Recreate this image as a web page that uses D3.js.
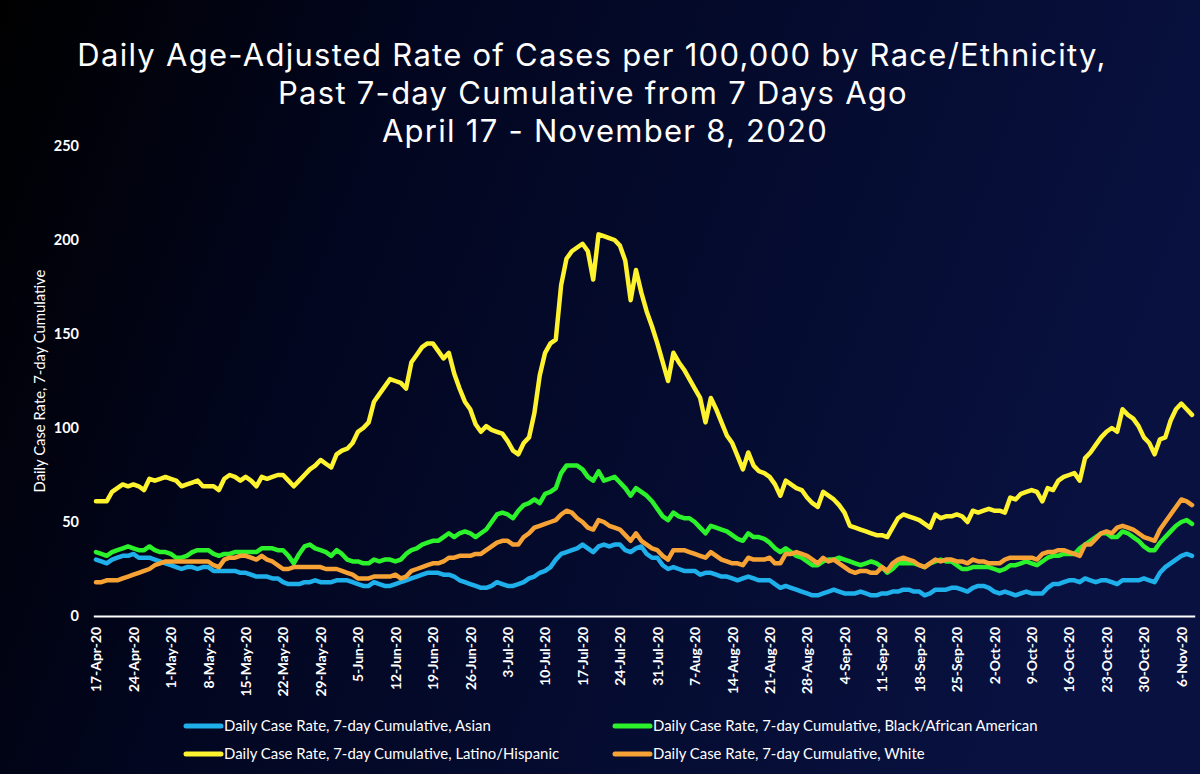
<!DOCTYPE html>
<html><head><meta charset="utf-8">
<script src="https://cdn.jsdelivr.net/npm/d3@7"></script>
<style>html,body{margin:0;padding:0;background:#000;} svg{display:block;}</style>
</head><body>
<svg id="chart" width="1200" height="774"></svg>
<script>
// ---------- data ----------
const titleLines = [
  "Daily Age-Adjusted Rate of Cases per 100,000 by Race/Ethnicity,",
  "Past 7-day Cumulative from 7 Days Ago",
  "April 17 - November 8, 2020"
];
const yAxisTitle = "Daily Case Rate, 7-day Cumulative";
const startDate = "17-Apr-20";
const endDate = "8-Nov-20";
const tickLabels = ["17-Apr-20","24-Apr-20","1-May-20","8-May-20","15-May-20","22-May-20","29-May-20",
  "5-Jun-20","12-Jun-20","19-Jun-20","26-Jun-20","3-Jul-20","10-Jul-20","17-Jul-20","24-Jul-20",
  "31-Jul-20","7-Aug-20","14-Aug-20","21-Aug-20","28-Aug-20","4-Sep-20","11-Sep-20","18-Sep-20",
  "25-Sep-20","2-Oct-20","9-Oct-20","16-Oct-20","23-Oct-20","30-Oct-20","6-Nov-20"];
const yTicks = [0, 50, 100, 150, 200, 250];
const seriesNames = [
  "Daily Case Rate, 7-day Cumulative, Asian",
  "Daily Case Rate, 7-day Cumulative, Black/African American",
  "Daily Case Rate, 7-day Cumulative, Latino/Hispanic",
  "Daily Case Rate, 7-day Cumulative, White"
];
const asian = [
  30,29,28,30,31,32,32,33,31,31, 31,30,29,28,27,26,25,26,26,25,
  26,26,24,24,24,24,24,23,23,22, 21,21,21,20,20,18,17,17,17,18,
  18,19,18,18,18,19,19,19,18,17, 16,16,18,17,16,16,17,18,19,20,
  21,22,23,23,23,22,22,21,19,18, 17,16,15,15,16,18,17,16,16,17,
  18,20,21,23,24,26,30,33,34,35, 36,38,36,34,37,38,37,38,38,35,
  34,36,37,33,31,31,27,25,26,25, 24,24,24,22,23,23,22,21,21,20,
  19,20,21,20,19,19,19,17,15,16, 15,14,13,12,11,11,12,13,14,13,
  12,12,12,13,12,11,11,12,12,13, 13,14,14,13,13,11,12,14,14,14,
  15,15,14,13,15,16,16,15,13,12, 13,12,11,12,13,12,12,12,15,17,
  17,18,19,19,18,20,19,18,19,19, 18,17,19,19,19,19,20,19,18,23,
  26,28,30,32,33,32
];
const black = [
  34,33,32,34,35,36,37,36,35,35, 37,35,34,34,33,31,31,32,34,35,
  35,35,33,32,33,33,34,34,34,34, 34,36,36,36,35,35,32,28,33,37,
  38,36,35,34,32,35,33,30,29,29, 28,28,30,29,30,30,29,30,33,35,
  36,38,39,40,40,42,44,42,44,45, 44,42,44,46,50,54,55,54,52,56,
  59,60,62,60,65,66,68,76,80,80, 80,78,74,72,77,72,73,74,71,68,
  64,68,66,64,61,57,53,51,55,53, 52,52,50,47,44,48,47,46,45,43,
  41,40,44,42,42,41,39,36,34,36, 34,32,31,29,27,27,29,30,30,31,
  30,29,28,27,28,29,28,26,23,25, 28,28,28,28,27,26,28,29,30,29,
  29,27,25,25,26,26,26,26,25,24, 25,27,27,28,29,28,27,29,31,32,
  32,33,33,33,36,38,40,42,44,44, 42,42,45,44,42,40,37,35,35,39,
  42,45,48,50,51,49
];
const latino = [
  61,61,61,66,68,70,69,70,69,67, 73,72,73,74,73,72,69,70,71,72,
  69,69,69,67,73,75,74,72,74,72, 69,74,73,74,75,75,72,69,72,75,
  78,80,83,81,79,86,88,89,92,98, 100,103,114,118,122,126,125,124,121,135,
  139,143,145,145,141,137,140,129,121,114, 110,102,98,101,99,98,97,93,88,86,
  92,95,108,128,140,145,147,176,190,194, 196,198,194,179,203,202,201,200,197,189,
  168,184,172,162,154,145,135,125,140,135, 131,126,121,116,103,116,110,103,96,92,
  85,78,87,80,77,76,74,70,64,72, 70,68,67,63,60,58,66,64,62,59,
  55,48,47,46,45,44,43,43,42,47, 52,54,53,52,51,49,47,54,52,53,
  53,54,53,50,56,55,56,57,56,56, 55,63,62,65,66,67,66,61,68,67,
  72,74,75,76,72,84,87,91,95,98, 100,98,110,107,105,101,95,92,86,94,
  95,104,110,113,110,107
];
const white = [
  18,18,19,19,19,20,21,22,23,24, 25,27,28,29,29,29,29,29,29,29,
  29,29,27,26,30,31,31,32,32,31, 30,32,30,29,27,25,25,26,26,26,
  26,26,26,25,25,25,24,23,22,20, 20,20,21,21,21,21,22,20,21,24,
  25,26,27,28,28,29,31,31,32,32, 32,33,33,35,37,39,40,40,38,38,
  42,44,47,48,49,50,51,54,56,55, 52,50,47,46,51,50,48,47,46,43,
  40,44,40,38,36,35,32,30,35,35, 35,34,33,32,31,34,32,30,29,28,
  28,27,31,30,30,30,31,28,28,33, 33,34,33,32,30,28,31,29,30,28,
  26,24,23,24,24,23,23,26,24,28, 30,31,30,29,27,26,28,30,29,30,
  30,29,29,28,30,29,29,28,28,28, 30,31,31,31,31,31,30,33,34,34,
  35,35,34,33,32,38,38,41,44,45, 44,47,48,47,46,44,42,41,40,46,
  50,54,58,62,61,59
];

// ---------- styles ----------
const colors = ["#1fb0ec", "#2cf22c", "#fff22e", "#f7a234"];
const FONT = "Lato, 'Open Sans', 'DejaVu Sans', sans-serif";
const TITLE_FONT = "Inter, Roboto, 'Liberation Sans', sans-serif";

const svg = d3.select("#chart");
const W = 1200, H = 774;

// background gradient
const defs = svg.append("defs");
const grad = defs.append("linearGradient").attr("id", "bg").attr("x1", "0").attr("y1", "0").attr("x2", "1").attr("y2", "0.25");
grad.append("stop").attr("offset", "0%").attr("stop-color", "#000000");
grad.append("stop").attr("offset", "35%").attr("stop-color", "#020620");
grad.append("stop").attr("offset", "100%").attr("stop-color", "#08113f");
svg.append("rect").attr("width", W).attr("height", H).attr("fill", "url(#bg)");

function fit(sel, target, base) {
  sel.attr("font-size", base);
  const w = sel.node().getComputedTextLength();
  const s = base * target / w;
  sel.attr("font-size", s);
  return s;
}

// ---------- title ----------
const titleG = svg.append("g").attr("font-family", TITLE_FONT).attr("fill", "#ffffff").attr("text-anchor", "middle");
const titleX = [592, 593, 605], titleY = [66, 104, 142];
const t0 = titleG.append("text").attr("x", titleX[0]).attr("y", titleY[0]).text(titleLines[0]);
const tSize = Math.min(fit(t0, 1028, 28), 31);
t0.attr("font-size", tSize);
// stretch letters slightly if the font is narrower than the reference
const wNow = t0.node().getComputedTextLength();
const ls = Math.max(0, (1028 - wNow) / (titleLines[0].length - 1));
titleG.attr("letter-spacing", ls);
titleG.append("text").attr("x", titleX[1]).attr("y", titleY[1]).attr("font-size", tSize).text(titleLines[1]);
titleG.append("text").attr("x", titleX[2]).attr("y", titleY[2]).attr("font-size", tSize).text(titleLines[2]);

// ---------- scales ----------
const parse = d3.timeParse("%d-%b-%y");
const d0 = parse(startDate), d1 = parse(endDate);
const dates = d3.timeDay.range(d0, d3.timeDay.offset(d1, 1));
const halfDay = 12 * 3600 * 1000;
const x = d3.scaleTime()
  .domain([new Date(+d0 - halfDay), new Date(+d1 + halfDay)])
  .range([93.3, 1194.7]);
const y = d3.scaleLinear().domain([0, 250]).range([616, 146]);

// ---------- axes ----------
const yAxis = svg.append("g").attr("transform", "translate(88,0)")
  .call(d3.axisLeft(y).tickValues(yTicks).tickSize(0).tickPadding(9));
yAxis.select(".domain").remove();
yAxis.selectAll("text").attr("fill", "#ffffff").attr("font-family", FONT).attr("font-weight", "bold").attr("font-size", 14.5);

const xAxis = svg.append("g").attr("transform", "translate(0,616)")
  .call(d3.axisBottom(x).tickValues(tickLabels.map(parse)).tickFormat(d3.timeFormat("%-d-%b-%y")).tickSize(0).tickSizeOuter(0));
xAxis.select(".domain").attr("stroke", "#ffffff").attr("stroke-width", 2);
const xt = xAxis.selectAll("text")
  .attr("fill", "#ffffff").attr("font-family", FONT).attr("font-weight", "bold")
  .attr("transform", "rotate(-90)").attr("text-anchor", "end")
  .attr("x", -11).attr("y", 0).attr("dy", "0.35em");
const xs = fit(d3.select(xt.nodes()[0]), 65, 13);
xt.attr("font-size", xs);

// y axis title
const yt = svg.append("text").attr("font-family", FONT).attr("fill", "#ffffff")
  .attr("text-anchor", "middle").attr("transform", "translate(45,381) rotate(-90)").text(yAxisTitle);
fit(yt, 223, 13);

// ---------- lines ----------
const series = [asian, black, latino, white];
const line = d3.line().x((d, i) => x(dates[i])).y(d => y(d)).curve(d3.curveLinear);
svg.append("g").selectAll("path").data(series).join("path")
  .attr("d", d => line(d))
  .attr("fill", "none")
  .attr("stroke", (d, i) => colors[i])
  .attr("stroke-width", 4.5)
  .attr("stroke-linejoin", "round")
  .attr("stroke-linecap", "round");

// ---------- legend ----------
const legPos = [[184, 726], [613, 726], [184, 754], [613, 754]];
const leg = svg.append("g").attr("font-family", FONT);
let legSize = null;
seriesNames.forEach((name, i) => {
  const [lx, ly] = legPos[i];
  leg.append("line").attr("x1", lx + 2).attr("x2", lx + 37).attr("y1", ly).attr("y2", ly)
    .attr("stroke", colors[i]).attr("stroke-width", 5).attr("stroke-linecap", "round");
  const t = leg.append("text").attr("x", lx + 40).attr("y", ly).attr("dy", "0.35em").attr("fill", "#ffffff").text(name);
  if (i === 0) legSize = fit(t, 267, 13);
  else t.attr("font-size", legSize);
});
</script>
</body></html>
